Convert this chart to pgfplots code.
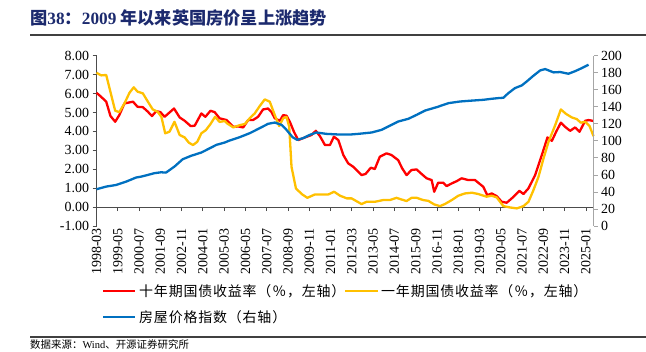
\documentclass[border=0pt]{standalone}
\usepackage{pgfplots}
\pgfplotsset{compat=1.18}
\usepackage{fontspec}
\setmainfont{Liberation Serif}
\newfontfamily\cjk{Noto Sans CJK SC}
\newfontfamily\cjkleg[LetterSpace=6]{Noto Sans CJK SC}
\definecolor{tenred}{RGB}{255,0,0}
\definecolor{oneyel}{RGB}{255,192,0}
\definecolor{hpiblue}{RGB}{0,112,192}
\definecolor{titleblue}{RGB}{28,42,110}
\begin{document}
\begin{tikzpicture}[x=1bp,y=1bp]
\path[use as bounding box] (0,0) rectangle (646,351);
\node[anchor=west, text=titleblue, inner sep=0] at (30,333)
  {\fontsize{17.3}{19}\selectfont{\cjk\bfseries 图}\textbf{38}{\cjk\bfseries ：}\textbf{2009}{\cjk\bfseries\ 年以来英国房价呈上涨趋势}};
\draw[line width=1.3bp, black!75] (30,316) -- (646,316);
\draw[line width=1.1bp, black!75] (30,14) -- (646,14);
\node[anchor=west, inner sep=0] at (30,6) {\fontsize{10.5}{12}\selectfont{\cjk 数据来源：}Wind{\cjk 、开源证券研究所}};

\begin{axis}[
  at={(96.5bp,125bp)}, anchor=south west,
  scale only axis, width=497bp, height=170.3bp,
  xmin=0, xmax=327, ymin=-1, ymax=8,
  axis y line*=left, axis x line*=middle,
  hide obscured x ticks=false, hide obscured y ticks=false,
  axis line style={black!70, line width=0.8bp},
  tick style={black!70, line width=0.8bp},
  tick align=outside, major tick length=4bp,
  xtick={0,14,...,322},
  xticklabels={1998-03,1999-05,2000-07,2001-09,2002-11,2004-01,2005-03,2006-05,2007-07,2008-09,2009-11,2011-01,2012-03,2013-05,2014-07,2015-09,2016-11,2018-01,2019-03,2020-05,2021-07,2022-09,2023-11,2025-01},
  xticklabel shift=16bp,
  xticklabel style={rotate=90, anchor=east, font=\fontsize{14}{16}\selectfont, inner sep=1bp},
  ytick={-1,0,...,8},
  yticklabel style={font=\fontsize{14}{16}\selectfont, /pgf/number format/fixed, /pgf/number format/fixed zerofill, /pgf/number format/precision=2},
  /pgf/number format/assume math mode=true,
  clip=false,
]
\addplot[tenred, line width=2.3bp, line join=round] coordinates {
(0,6.04)(3,5.83)(6.4,5.57)(9.2,4.81)(12.3,4.51)(15,4.86)(18.4,5.48)(24,5.57)(27,5.30)(30.5,5.28)
(33.8,5.04)(36.5,4.81)(39.3,5.07)(42,5.02)(44.8,4.77)(51,5.21)(54.7,4.74)(58,4.56)(62,4.28)(64.6,4.30)
(69,4.95)(71.6,4.77)(75,5.09)(77.7,5.02)(81,4.69)(85.6,4.60)(90,4.24)(93.3,4.26)(96.5,4.21)(99.8,4.60)
(103,4.60)(106.3,4.77)(109.6,5.16)(112.9,5.21)(115,5.04)(117.3,4.69)(120.6,4.56)(122.8,4.86)(125,4.83)(127.2,4.51)
(129.9,3.98)(132.7,3.54)(137.1,3.68)(141.5,3.81)(144.3,4.03)(147,3.75)(150.3,3.28)(153.6,3.28)(156.2,3.72)(159.1,3.54)
(162.4,2.75)(165.6,2.31)(168.9,2.13)(174.4,1.69)(177,1.75)(180.5,2.08)(183.1,2.01)(186.4,2.66)(190.8,2.84)(194.1,2.75)
(198.5,2.48)(201.1,2.05)(204,1.69)(207.3,1.96)(210.6,1.99)(213.9,1.75)(217.2,1.52)(220.5,1.43)(222.2,0.81)(224.8,1.29)
(228.1,1.29)(230.4,1.11)(233.7,1.25)(237,1.37)(240.2,1.52)(244.6,1.43)(249,1.43)(254.5,1.07)(257.1,0.63)(260,0.72)
(263.3,0.58)(266.6,0.28)(269.9,0.23)(273.2,0.46)(275.4,0.63)(278.2,0.86)(280.9,0.69)(284.2,0.99)(288.6,1.69)(293,2.75)
(296.7,3.68)(299.6,3.50)(302.4,3.98)(305.5,4.46)(308.3,4.24)(311.6,4.03)(314.9,4.21)(317.8,3.98)(321.5,4.56)(323.7,4.60)(327,4.55)
};
\addplot[oneyel, line width=2.3bp, line join=round] coordinates {
(0,7.10)(3,6.96)(6.4,6.98)(9.4,6.01)(12.3,5.09)(15,5.02)(18.4,5.48)(21.7,6.04)(24.5,6.33)(27,6.10)
(30.5,6.01)(33.8,5.57)(37,5.16)(40.2,5.04)(42.7,4.77)(45.2,3.90)(48,3.98)(51.3,4.51)(54.7,3.81)(58,3.68)
(60.8,3.40)(63.5,3.28)(66.3,3.45)(69,3.90)(72,4.07)(75,4.39)(78,4.77)(81,4.50)(84.3,4.55)(86,4.42)
(90,4.21)(94.2,4.33)(97.6,4.39)(100.8,4.69)(104.1,4.95)(107.4,5.34)(110.7,5.69)(114,5.57)(117.3,4.86)(120.2,4.28)
(122.8,4.69)(125,4.77)(126.8,4.24)(128.3,2.13)(131.2,0.99)(135,0.69)(138.7,0.49)(143.8,0.67)(152.6,0.67)(156.3,0.81)
(160.3,0.60)(164.7,0.46)(167.8,0.46)(174.4,0.16)(177.7,0.28)(183.1,0.28)(188.6,0.37)(193,0.37)(197.4,0.49)(200.7,0.40)
(204,0.32)(207.3,0.49)(210.6,0.49)(215,0.37)(218.3,0.33)(222.2,0.14)(226,0.05)(229.2,0.16)(233.7,0.37)(238,0.60)
(242.4,0.72)(247,0.76)(251.2,0.69)(256.6,0.55)(260,0.60)(263.3,0.51)(267.7,0.05)(272.1,-0.02)(276.5,-0.07)(280.9,0.05)
(284.2,0.28)(287.5,0.90)(290.8,1.60)(294.1,2.57)(297.4,3.45)(301.8,4.33)(305.5,5.16)(309,4.92)(312.7,4.74)(316,4.65)
(318.6,4.46)(321.5,4.51)(324.4,4.28)(327,3.75)
};
\end{axis}

\begin{axis}[
  at={(96.5bp,125bp)}, anchor=south west,
  scale only axis, width=497bp, height=170.3bp,
  xmin=0, xmax=327, ymin=0, ymax=200,
  axis y line*=right, axis x line=none,
  axis line style={black!35, line width=0.8bp},
  tick style={black!35, line width=0.8bp},
  tick align=outside, major tick length=4bp,
  ytick={0,20,...,200},
  yticklabel style={font=\fontsize{14}{16}\selectfont},
  /pgf/number format/assume math mode=true,
  clip=false,
]
\addplot[hpiblue, line width=2.3bp, line join=round] coordinates {
(0,43.2)(6.4,46.3)(12.9,48.2)(19.5,52.1)(26,56.9)(29.4,58.0)(33.8,60)(38,62)(42.5,63.1)(45.7,62.7)
(51.3,69.8)(56.7,78.4)(62.2,82.4)(69,86.3)(73.3,90.2)(78.9,95.3)(84.3,98)(87.6,100.4)(94.2,104.3)(100.8,109)
(107.4,114.9)(112.9,120)(117.3,121.5)(121.7,118.8)(125,112.9)(129,104.3)(132,101.2)(136,103.2)(140.3,107)(144.7,109.8)
(151.3,108.2)(160,107.4)(166.7,107.4)(172.2,108.2)(181,109.8)(187.5,112.9)(194.1,118.8)(198.5,122.7)(205.2,125.9)(210.7,130.6)
(216.2,135.6)(223.9,139.6)(231.6,144.3)(239.2,146.2)(245.7,147.1)(254.5,148.2)(260,149.4)(264.4,150.2)(267.7,150.6)(271,156.1)
(275.4,162)(279.8,165.1)(283.1,169.8)(287.5,176.5)(291.9,182.7)(295.2,184.3)(300.7,180.4)(305.1,180.8)(310.5,178.8)(315,181.9)
(319.4,185.5)(323.7,189.4)
};
\end{axis}

% legend
\draw[tenred, line width=2.3bp] (103,60) -- (135,60);
\node[anchor=west, inner sep=0] at (139,60) {\fontsize{14}{16}\selectfont\cjkleg 十年期国债收益率（％，左轴）};
\draw[oneyel, line width=2.3bp] (345,60) -- (378,60);
\node[anchor=west, inner sep=0] at (381,60) {\fontsize{14}{16}\selectfont\cjkleg 一年期国债收益率（％，左轴）};
\draw[hpiblue, line width=2.3bp] (103,34) -- (135,34);
\node[anchor=west, inner sep=0] at (139,34) {\fontsize{14}{16}\selectfont\cjkleg 房屋价格指数（右轴）};
\end{tikzpicture}
\end{document}
